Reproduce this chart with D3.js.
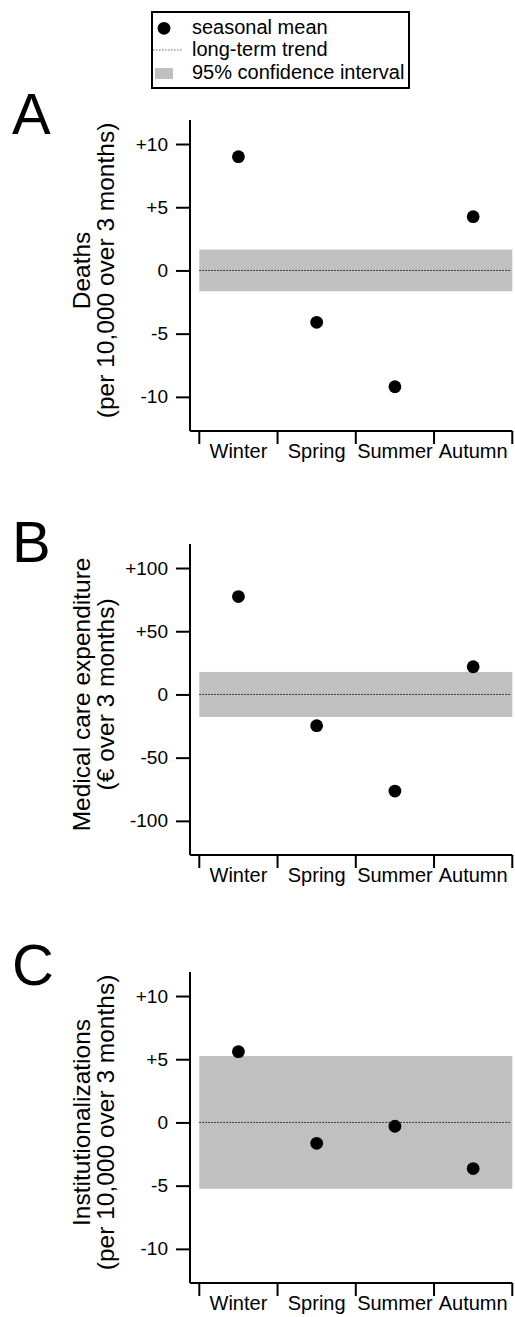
<!DOCTYPE html>
<html>
<head>
<meta charset="utf-8">
<style>
  body { margin: 0; background: #fff; }
  svg { display: block; font-family: "Liberation Sans", Arial, sans-serif; }
  .ci { fill: #c0c0c0; }
  .trend { stroke: #111; stroke-width: 1px; stroke-dasharray: 1.5,1.5; fill: none; }
  .axis path, .axis line { stroke: #000; stroke-width: 2px; }
  .axis text { fill: #000; }
</style>
</head>
<body>
<svg width="515" height="1317"></svg>
<script src="https://d3js.org/d3.v7.min.js"></script>
<script>

// categories
var seasons = ["Winter", "Spring", "Summer", "Autumn"];

// seasonal means
var deathsMean = [9.0, -4.1, -9.2, 4.25];
var expenditureMean = [77.4, -24.7, -76.4, 21.9];
var institutionMean = [5.6, -1.65, -0.3, -3.65];

// half width of the 95% confidence interval
var deathsCI = 1.65;
var expenditureCI = 17.8;
var institutionCI = 5.25;

// y tick values
var smallTicks = [-10, -5, 0, 5, 10];
var bigTicks = [-100, -50, 0, 50, 100];

// legend labels
var legendLabels = ["seasonal mean", "long-term trend", "95% confidence interval"];

var svg = d3.select("svg");

var axisX = 190, bandLeft = 199.3, right = 512.3, plotH = 311;

var panels = [
  { letter: "A", top: 120, letterY: 134, mean: deathsMean, ci: deathsCI, ticks: smallTicks, domain: [-12.7, 11.9],
    title: ["Deaths", "(per 10,000 over 3 months)"] },
  { letter: "B", top: 544, letterY: 562, mean: expenditureMean, ci: expenditureCI, ticks: bigTicks, domain: [-127, 119],
    title: ["Medical care expenditure", "(\u20ac over 3 months)"] },
  { letter: "C", top: 972, letterY: 985, mean: institutionMean, ci: institutionCI, ticks: smallTicks, domain: [-12.7, 11.9],
    title: ["Institutionalizations", "(per 10,000 over 3 months)"] }
];

function fmt(v) {
  return v > 0 ? "+" + v : String(v);
}

panels.forEach(function(p) {
  var bottom = p.top + plotH;
  var y = d3.scaleLinear().domain(p.domain).range([bottom, p.top]);
  var x = d3.scaleBand().domain(seasons).range([bandLeft, right]);

  var g = svg.append("g");

  // confidence band
  g.append("rect")
      .attr("class", "ci")
      .attr("x", bandLeft)
      .attr("width", right - bandLeft)
      .attr("y", y(p.ci))
      .attr("height", y(-p.ci) - y(p.ci));

  // long-term trend
  g.append("line")
      .attr("class", "trend")
      .attr("x1", bandLeft).attr("x2", right - 1)
      .attr("y1", y(0)).attr("y2", y(0));

  // y axis
  var yAxis = g.append("g")
      .attr("class", "axis")
      .attr("transform", "translate(" + axisX + ",0)")
      .call(d3.axisLeft(y).tickValues(p.ticks).tickFormat(fmt).tickSize(14).tickSizeOuter(0).tickPadding(8));
  yAxis.selectAll("text").style("font-size", "19px");
  yAxis.select(".domain").attr("d", "M0," + p.top + "V" + bottom);

  // x axis: base line plus category dividers
  var xAxis = g.append("g")
      .attr("class", "axis")
      .attr("transform", "translate(0," + bottom + ")");
  xAxis.append("path")
      .attr("d", "M" + axisX + ",0H" + right);
  xAxis.selectAll(".div")
      .data(seasons.concat([null]))
      .enter().append("line")
      .attr("x1", function(d, i) { return i < seasons.length ? x(d) : right; })
      .attr("x2", function(d, i) { return i < seasons.length ? x(d) : right; })
      .attr("y1", 0).attr("y2", 13);
  xAxis.selectAll(".lab")
      .data(seasons)
      .enter().append("text")
      .attr("x", function(d) { return x(d) + x.bandwidth() / 2; })
      .attr("y", 27)
      .attr("text-anchor", "middle")
      .style("font-size", "20px")
      .text(function(d) { return d; });

  // seasonal means
  g.selectAll(".dot")
      .data(p.mean)
      .enter().append("circle")
      .attr("cx", function(d, i) { return x(seasons[i]) + x.bandwidth() / 2; })
      .attr("cy", function(d) { return y(d); })
      .attr("r", 6.4)
      .attr("fill", "#000");

  // y title, two lines rotated
  var t = g.append("text")
      .attr("transform", "translate(0," + y(0) + ") rotate(-90)")
      .attr("text-anchor", "middle")
      .style("font-size", "24.5px");
  t.append("tspan").attr("x", 0).attr("y", 90).text(p.title[0]);
  t.append("tspan").attr("x", 0).attr("y", 114).text(p.title[1]);

  // panel letter
  g.append("text")
      .attr("x", 12)
      .attr("y", p.letterY)
      .style("font-size", "58px")
      .text(p.letter);
});

// legend
var lg = svg.append("g");
lg.append("rect")
    .attr("x", 152).attr("y", 12)
    .attr("width", 257).attr("height", 76)
    .attr("fill", "#fff").attr("stroke", "#000").attr("stroke-width", 2);
lg.append("circle").attr("cx", 164).attr("cy", 28.3).attr("r", 6.4).attr("fill", "#000");
lg.append("line").attr("class", "trend")
    .style("stroke", "#666")
    .attr("x1", 153).attr("x2", 182).attr("y1", 50).attr("y2", 50);
lg.append("rect").attr("class", "ci")
    .attr("x", 155).attr("y", 68).attr("width", 18).attr("height", 11);
lg.selectAll(".lt")
    .data(legendLabels)
    .enter().append("text")
    .attr("x", 192)
    .attr("y", function(d, i) { return 33.5 + i * 22.6; })
    .style("font-size", "20px")
    .text(function(d) { return d; });

</script>
</body>
</html>
